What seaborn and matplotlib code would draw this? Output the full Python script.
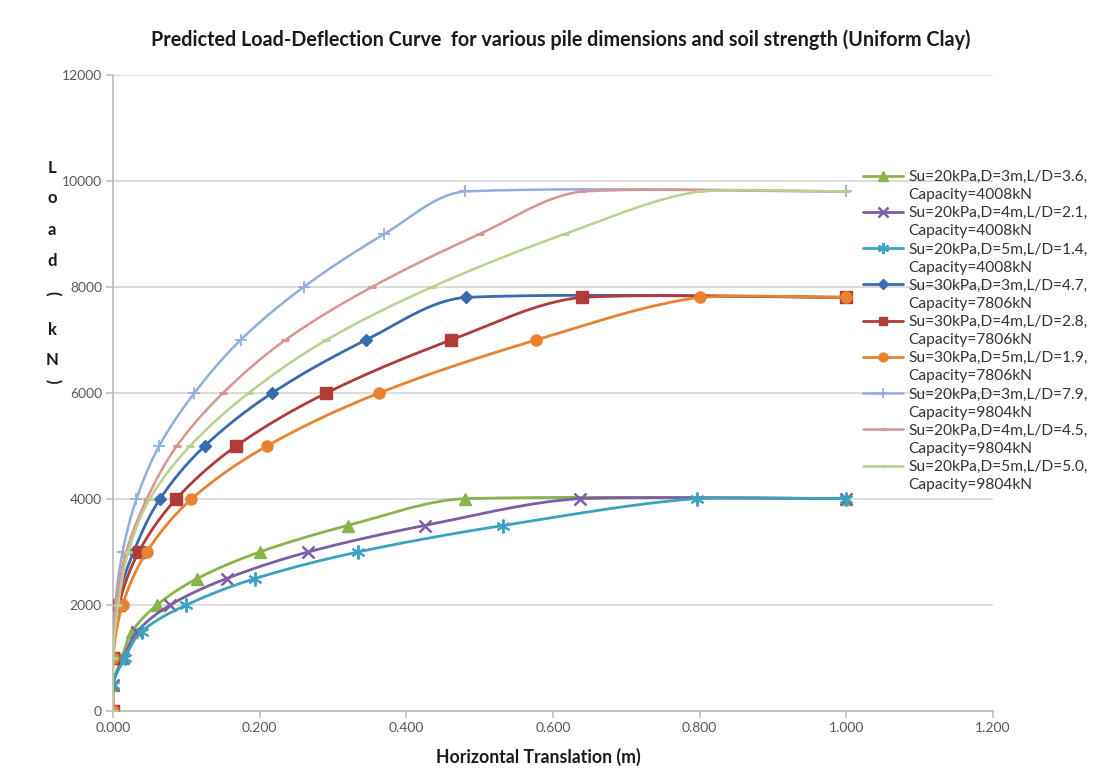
import numpy as np
import pandas as pd
import matplotlib
matplotlib.use("Agg")
import matplotlib.pyplot as plt
from matplotlib.lines import Line2D
import seaborn as sns

# ---- data: horizontal translation (m) vs load (kN) ----
labels = [
    "Su=20kPa,D=3m,L/D=3.6,\nCapacity=4008kN",
    "Su=20kPa,D=4m,L/D=2.1,\nCapacity=4008kN",
    "Su=20kPa,D=5m,L/D=1.4,\nCapacity=4008kN",
    "Su=30kPa,D=3m,L/D=4.7,\nCapacity=7806kN",
    "Su=30kPa,D=4m,L/D=2.8,\nCapacity=7806kN",
    "Su=30kPa,D=5m,L/D=1.9,\nCapacity=7806kN",
    "Su=20kPa,D=3m,L/D=7.9,\nCapacity=9804kN",
    "Su=20kPa,D=4m,L/D=4.5,\nCapacity=9804kN",
    "Su=20kPa,D=5m,L/D=5.0,\nCapacity=9804kN",
]

load_4008 = [0, 500, 1000, 1500, 2000, 2500, 3000, 3500, 4008, 4008]
load_7806 = [0, 1000, 2000, 3000, 4000, 5000, 6000, 7000, 7806, 7806]
load_9804 = [0, 1000, 2000, 3000, 4000, 5000, 6000, 7000, 8000, 9000, 9804, 9804]

disp_s1 = [0, 0.0, 0.012, 0.026, 0.060, 0.115, 0.200, 0.320, 0.480, 1.000]
disp_s2 = [0, 0.0, 0.014, 0.033, 0.078, 0.155, 0.266, 0.425, 0.637, 1.000]
disp_s3 = [0, 0.0, 0.016, 0.039, 0.100, 0.194, 0.334, 0.532, 0.796, 1.000]
disp_s4 = [0, 0.0, 0.005, 0.028, 0.064, 0.125, 0.217, 0.345, 0.481, 1.000]
disp_s5 = [0, 0.0, 0.008, 0.035, 0.086, 0.168, 0.291, 0.461, 0.639, 1.000]
disp_s6 = [0, 0.0, 0.013, 0.046, 0.107, 0.210, 0.363, 0.577, 0.800, 1.000]
disp_s7 = [0, 0.0, 0.003, 0.013, 0.032, 0.063, 0.111, 0.174, 0.260, 0.370, 0.480, 1.000]
disp_s8 = [0, 0.0, 0.004, 0.018, 0.046, 0.087, 0.150, 0.235, 0.353, 0.500, 0.640, 1.000]
disp_s9 = [0, 0.0, 0.007, 0.021, 0.050, 0.105, 0.185, 0.291, 0.435, 0.616, 0.800, 1.000]

xs = [disp_s1, disp_s2, disp_s3, disp_s4, disp_s5, disp_s6, disp_s7, disp_s8, disp_s9]
ys = [load_4008, load_4008, load_4008, load_7806, load_7806, load_7806,
      load_9804, load_9804, load_9804]

x_ticks = [0.0, 0.2, 0.4, 0.6, 0.8, 1.0, 1.2]
y_ticks = [0, 2000, 4000, 6000, 8000, 10000, 12000]

# ---- styles ----
ASTERISK = (6, 2, 0)
colors = ["#8AB34A", "#7B5EA3", "#3AA3C1", "#3A6BAE", "#B03B39", "#E8822E",
          "#93AEDC", "#DA9492", "#B8D28F"]
markers = ["^", "x", ASTERISK, "D", "s", "o", "+", "_", "_"]
msizes = [9, 9, 10, 6.5, 8, 8, 9, 6, 6]
mews = [1, 1.8, 1.4, 1, 1, 1, 1.3, 2.2, 2.2]
lws = [2.0, 2.0, 2.0, 2.0, 2.0, 2.0, 1.8, 1.8, 1.8]

sns.set_theme(style="white")
plt.rcParams["font.family"] = ["Lato", "DejaVu Sans"]

W, H, DPI = 1097, 769, 100
fig = plt.figure(figsize=(W / DPI, H / DPI), dpi=DPI)
ax_l, ax_r, ax_t, ax_b = 113, 993, 75, 711
ax = fig.add_axes([ax_l / W, 1 - ax_b / H, (ax_r - ax_l) / W, (ax_b - ax_t) / H])

X_MAX, Y_MAX = 1.2, 12000
PX_W, PX_H = ax_r - ax_l, ax_b - ax_t


def smooth_curve(x, y, n=40, k=1 / 3, overshoot=0.4):
    """Smoothed Bezier path through the points (tangent from neighbours,
    handle length scaled to each segment, handles mostly kept within the
    segment's vertical range), computed in screen space."""
    px = np.asarray(x, float) / X_MAX * PX_W
    py = np.asarray(y, float) / Y_MAX * PX_H
    P = np.column_stack([px, py])
    m = len(P)

    def tangent(i):
        a = P[max(i - 1, 0)]
        b = P[min(i + 1, m - 1)]
        d = b - a
        nrm = np.hypot(*d)
        return d / nrm if nrm > 0 else np.zeros(2)

    def soften(v, lo, hi):
        if v > hi:
            return hi + (v - hi) * overshoot
        if v < lo:
            return lo - (lo - v) * overshoot
        return v

    out = [P[0]]
    s = np.linspace(0, 1, n)[1:, None]
    for i in range(m - 1):
        p1, p2 = P[i], P[i + 1]
        L = np.hypot(*(p2 - p1))
        c1 = p1 + tangent(i) * L * k
        c2 = p2 - tangent(i + 1) * L * k
        lo, hi = min(p1[1], p2[1]), max(p1[1], p2[1])
        c1[1] = soften(c1[1], lo, hi)
        c2[1] = soften(c2[1], lo, hi)
        seg = ((1 - s) ** 3) * p1 + 3 * ((1 - s) ** 2) * s * c1 + 3 * (1 - s) * s ** 2 * c2 + s ** 3 * p2
        out.extend(seg)
    out = np.array(out)
    return out[:, 0] / PX_W * X_MAX, out[:, 1] / PX_H * Y_MAX


handles, legend_labels = [], []
blank = Line2D([], [], lw=0, marker=None, color="none")
for i in range(9):
    sx, sy = smooth_curve(xs[i], ys[i])
    df_line = pd.DataFrame({"x": sx, "y": sy})
    sns.lineplot(data=df_line, x="x", y="y", sort=False, estimator=None,
                 color=colors[i], lw=lws[i], ax=ax, zorder=3 + i)
    df_pts = pd.DataFrame({"x": xs[i], "y": ys[i]})
    sns.lineplot(data=df_pts, x="x", y="y", sort=False, estimator=None,
                 linestyle="none", marker=markers[i], markersize=msizes[i],
                 color=colors[i], mec=colors[i], mew=mews[i], ax=ax, zorder=3 + i)
    first, second = labels[i].split("\n")
    handles.append(Line2D([], [], color=colors[i], lw=lws[i], marker=markers[i],
                          markersize=msizes[i] * 0.8, mec=colors[i], mew=mews[i]))
    legend_labels.append(first)
    handles.append(blank)
    legend_labels.append(second)

ax.set_xlim(0, X_MAX)
ax.set_ylim(0, Y_MAX)
ax.set_xticks(x_ticks)
ax.set_xticklabels([f"{v:.3f}" for v in x_ticks])
ax.set_yticks(y_ticks)
ax.set_yticklabels([f"{v}" for v in y_ticks])
ax.set_xlabel("")
ax.set_ylabel("")

ax.grid(axis="y", color="#D9D9D9", lw=1.3)
ax.grid(axis="x", visible=False)
ax.set_axisbelow(True)
for side in ["top", "right"]:
    ax.spines[side].set_visible(False)
for side in ["left", "bottom"]:
    ax.spines[side].set_color("#BFBFBF")
    ax.spines[side].set_linewidth(1.3)
ax.tick_params(axis="both", which="major", length=5, width=1.2, color="#BFBFBF",
               labelsize=10, labelcolor="#595959", pad=3, direction="out",
               bottom=True, left=True)

# title and axis titles
fig.text(561 / W, 1 - 40 / H, "Predicted Load-Deflection Curve  for various pile dimensions and soil strength (Uniform Clay)",
         ha="center", va="center", fontsize=14.2, fontweight="bold", color="#1A1A1A")
fig.text(538 / W, 1 - 757 / H, "Horizontal Translation (m)", ha="center", va="center",
         fontsize=12.7, fontweight="bold", color="#1A1A1A")

ylab_chars = ["L", "o", "a", "d", "(", "k", "N", ")"]
ylab_pos = [168, 198, 230, 261, 293, 330, 360, 381]
for ch, yp in zip(ylab_chars, ylab_pos):
    rot = -90 if ch in "()" else 0
    fig.text(52 / W, 1 - yp / H, ch, ha="center", va="center", fontsize=12,
             fontweight="bold", color="#1A1A1A", rotation=rot)

ax.legend(handles, legend_labels, loc="upper left", bbox_to_anchor=(863 / W, 1 - 170 / H),
          bbox_transform=fig.transFigure, frameon=False, fontsize=11.2,
          handlelength=2.6, handletextpad=0.3, labelspacing=0.265,
          borderaxespad=0, borderpad=0, labelcolor="#333333")

fig.savefig("out.png", dpi=DPI)
